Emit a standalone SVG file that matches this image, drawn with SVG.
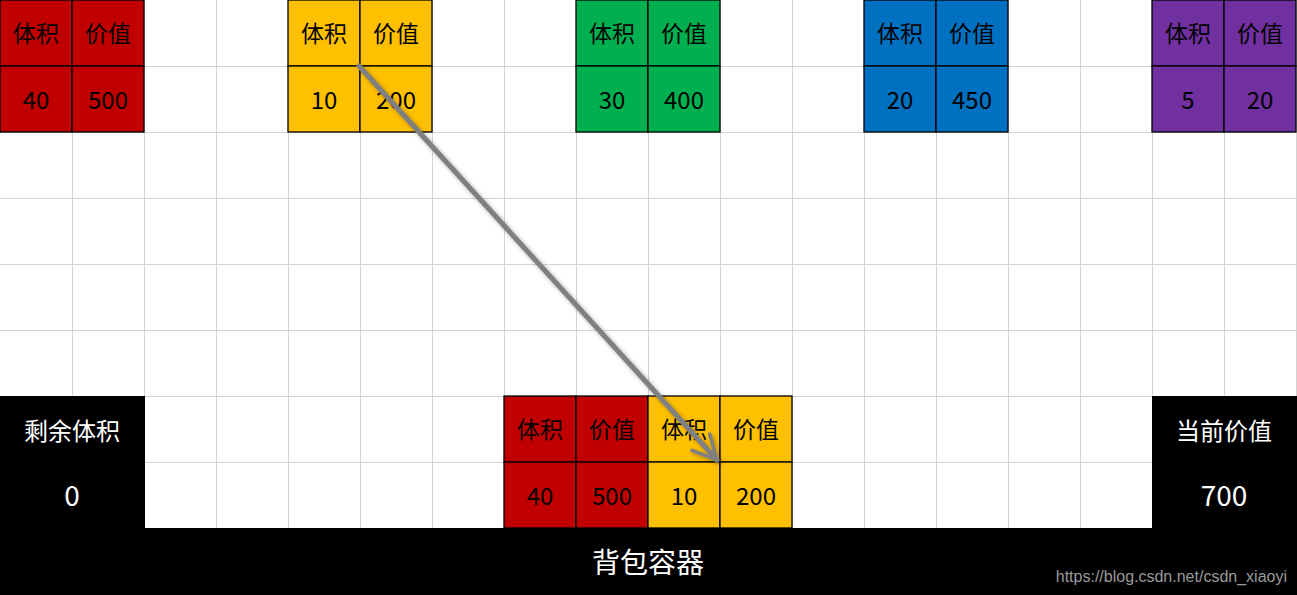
<svg xmlns="http://www.w3.org/2000/svg" width="1297" height="595" viewBox="0 0 1297 595">
<style>
.grid{stroke:#d4d4d4;stroke-width:1}
.cell{stroke:#000;stroke-width:1.3}
.red{fill:#c00000}.yel{fill:#ffc000}.grn{fill:#00b050}.blu{fill:#0070c0}.pur{fill:#7030a0}
.t{font-family:"Noto Sans CJK SC","Microsoft YaHei",sans-serif;font-size:23px;fill:#000;text-anchor:middle;dominant-baseline:central}
.n{font-size:24px}
.w{fill:#fff}
.lab{font-size:24px}
.big{font-size:28px}
</style>
<defs>
<filter id="sh" x="-10%" y="-10%" width="120%" height="120%">
<feGaussianBlur in="SourceAlpha" stdDeviation="2"/>
<feOffset dx="2" dy="2"/>
<feComponentTransfer><feFuncA type="linear" slope="0.35"/></feComponentTransfer>
<feMerge><feMergeNode/><feMergeNode in="SourceGraphic"/></feMerge>
</filter>
<marker id="ah" viewBox="0 0 10 10" refX="9" refY="5" markerWidth="6" markerHeight="6" orient="auto" markerUnits="strokeWidth">
<path d="M1,1 L9,5 L1,9" fill="none" stroke="#808080" stroke-width="1.2" stroke-linecap="round" stroke-linejoin="round"/>
</marker>
<g id="pair">
<rect class="cell" x="0" y="0" width="72" height="66"/>
<rect class="cell" x="72" y="0" width="72" height="66"/>
<rect class="cell" x="0" y="66" width="72" height="66"/>
<rect class="cell" x="72" y="66" width="72" height="66"/>
</g>
</defs>
<rect width="1297" height="595" fill="#fff"/>
<g id="grid">
<path class="grid" d="M72.5,0V595M144.5,0V595M216.5,0V595M288.5,0V595M360.5,0V595M432.5,0V595M504.5,0V595M576.5,0V595M648.5,0V595M720.5,0V595M792.5,0V595M864.5,0V595M936.5,0V595M1008.5,0V595M1080.5,0V595M1152.5,0V595M1224.5,0V595M1296.5,0V595M0,66.5H1297M0,132.5H1297M0,198.5H1297M0,264.5H1297M0,330.5H1297M0,396.5H1297M0,462.5H1297"/>
</g>
<g id="item-red" class="red"><use href="#pair" x="0" y="0"/>
<text class="t" x="36" y="32">体积</text><text class="t" x="108" y="32">价值</text>
<text class="t n" x="36" y="98">40</text><text class="t n" x="108" y="98">500</text></g>
<g id="item-yellow" class="yel"><use href="#pair" x="288" y="0"/>
<text class="t" x="324" y="32">体积</text><text class="t" x="396" y="32">价值</text>
<text class="t n" x="324" y="98">10</text><text class="t n" x="396" y="98">200</text></g>
<g id="item-green" class="grn"><use href="#pair" x="576" y="0"/>
<text class="t" x="612" y="32">体积</text><text class="t" x="684" y="32">价值</text>
<text class="t n" x="612" y="98">30</text><text class="t n" x="684" y="98">400</text></g>
<g id="item-blue" class="blu"><use href="#pair" x="864" y="0"/>
<text class="t" x="900" y="32">体积</text><text class="t" x="972" y="32">价值</text>
<text class="t n" x="900" y="98">20</text><text class="t n" x="972" y="98">450</text></g>
<g id="item-purple" class="pur"><use href="#pair" x="1152" y="0"/>
<text class="t" x="1188" y="32">体积</text><text class="t" x="1260" y="32">价值</text>
<text class="t n" x="1188" y="98">5</text><text class="t n" x="1260" y="98">20</text></g>
<g id="backpack">
<path d="M0,396H145V528H1152V396H1297V595H0Z" fill="#000"/>
<text class="t w lab" x="72" y="429">剩余体积</text>
<text class="t w big" x="72" y="494">0</text>
<text class="t w lab" x="1224" y="429">当前价值</text>
<text class="t w big" x="1224" y="494">700</text>
<text class="t w big" x="648" y="561">背包容器</text>
<text x="1287" y="582" font-family="Liberation Sans, Arial, sans-serif" font-size="16" fill="#9a9a9a" text-anchor="end">https://blog.csdn.net/csdn_xiaoyi</text>
</g>
<g id="packed">
<g class="red"><use href="#pair" x="504" y="396"/></g>
<g class="yel"><use href="#pair" x="648" y="396"/></g>
<text class="t" x="540" y="428">体积</text><text class="t" x="612" y="428">价值</text>
<text class="t" x="684" y="428">体积</text><text class="t" x="756" y="428">价值</text>
<text class="t n" x="540" y="494">40</text><text class="t n" x="612" y="494">500</text>
<text class="t n" x="684" y="494">10</text><text class="t n" x="756" y="494">200</text>
</g>
<g id="connectors">
<line x1="359" y1="66" x2="717" y2="460" stroke="#808080" stroke-width="5" stroke-linecap="round" marker-end="url(#ah)" filter="url(#sh)"/>
</g>
</svg>
